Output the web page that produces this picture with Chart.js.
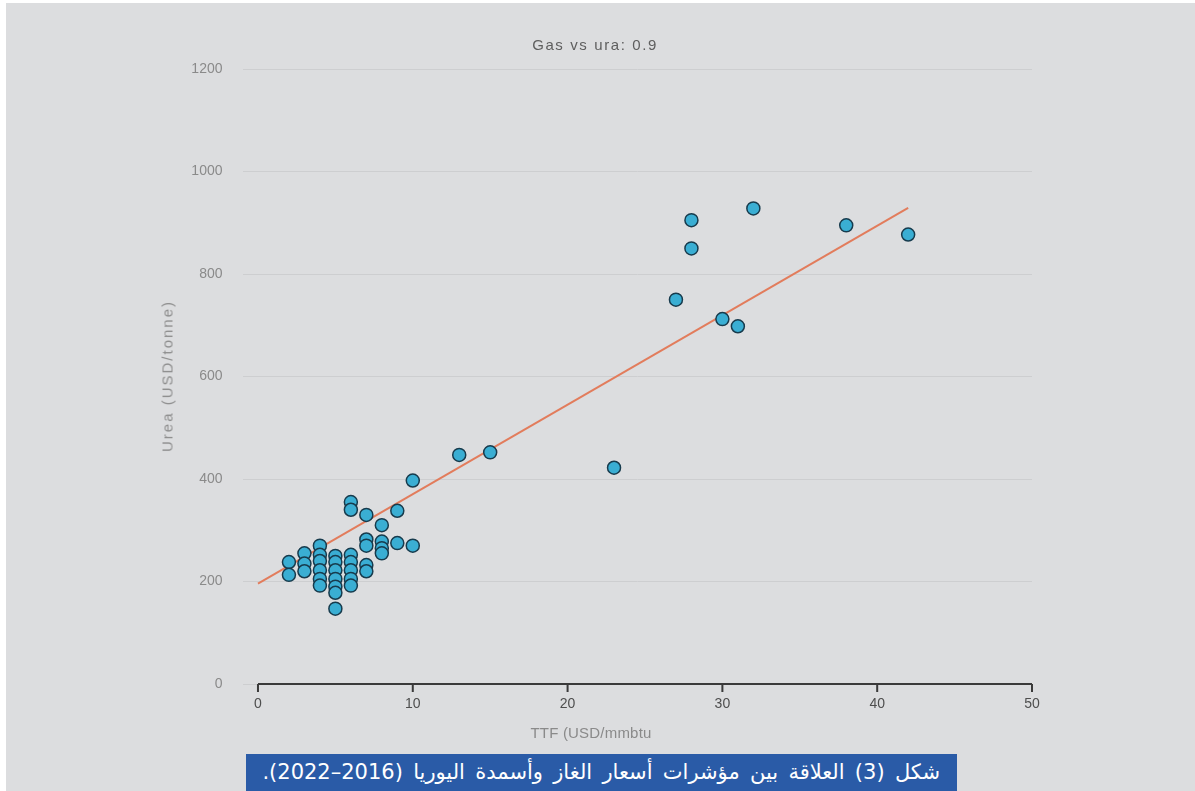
<!DOCTYPE html>
<html>
<head>
<meta charset="utf-8">
<script src="https://cdn.jsdelivr.net/npm/chart.js@4.4.1/dist/chart.umd.min.js"></script>
<style>
  html, body { margin: 0; padding: 0; background: #ffffff; }
  body { width: 1195px; height: 791px; position: relative; overflow: hidden; font-family: "Liberation Sans", Arial, sans-serif; }
  #panel { position: absolute; left: 6px; top: 3px; right: 0; bottom: 0; background: #dcdddf; }
  #wrap { position: absolute; left: 0; top: 0; width: 1195px; height: 791px; }
  .lbl { position: absolute; white-space: nowrap; line-height: 17px; }
  #title { left: 595px; top: 36px; color: #5e5e5e; font-size: 15px; letter-spacing: 1.6px; transform: translateX(-50%); }
  #xtitle { left: 591px; top: 724px; color: #8a8a8a; font-size: 15px; letter-spacing: 0.2px; transform: translateX(-50%); }
  #ytitle { left: 167px; top: 376px; color: #8e8e8e; font-size: 15px; letter-spacing: 2px; transform: translate(-50%, -50%) rotate(-90deg); }
  #caption {
    position: absolute; left: 246px; top: 754px; width: 711px; height: 37px;
    background: #2a5ba7; color: #ffffff; direction: rtl; text-align: right;
    font-family: "DejaVu Sans", "Noto Sans", sans-serif; font-size: 21px; word-spacing: 3.6px;
    line-height: 37px; padding-right: 17px; box-sizing: border-box; white-space: nowrap;
  }
</style>
</head>
<body>
<div id="panel"></div>
<div id="wrap"><canvas id="c" width="1195" height="791"></canvas></div>
<div class="lbl" id="title">Gas vs ura: 0.9</div>
<div class="lbl" id="xtitle">TTF (USD/mmbtu</div>
<div class="lbl" id="ytitle">Urea (USD/tonne)</div>
<div id="caption">شكل (3) العلاقة بين مؤشرات أسعار الغاز وأسمدة اليوريا (2016–2022).</div>
<script>
// Gas price (TTF, USD/mmbtu) for each observation
const ttf = [
  2, 2,
  3, 3, 3,
  4, 4, 4, 4, 4, 4,
  5, 5, 5, 5, 5, 5, 5,
  6, 6, 6, 6, 6, 6, 6,
  7, 7, 7, 7, 7,
  8, 8, 8, 8,
  9, 9,
  10, 10,
  13, 15, 23, 27, 28, 28, 30, 31, 32, 38, 42
];
// Urea price (USD/tonne) for the same observations
const urea = [
  238, 213,
  255, 235, 220,
  270, 252, 240, 222, 205, 192,
  250, 238, 222, 205, 190, 178, 147,
  355, 340, 252, 238, 222, 205, 192,
  330, 282, 270, 232, 220,
  310, 278, 265, 255,
  338, 275,
  397, 270,
  447, 452, 422, 750, 905, 850, 712, 698, 928, 895, 877
];
// Fitted trend line end points
const fitX = [0, 42];
const fitY = [196, 929];
// Axis tick values
const xTicks = [0, 10, 20, 30, 40, 50];
const yTicks = [0, 200, 400, 600, 800, 1000, 1200];

const scatterPts = ttf.map((x, i) => ({ x: x, y: urea[i] }));
const fitPts = fitX.map((x, i) => ({ x: x, y: fitY[i] }));

// Base-graphics style x axis: dark line from first to last tick, ticks pointing down
const xAxisLine = {
  id: 'xAxisLine',
  afterDraw(chart) {
    const xs = chart.scales.x, ys = chart.scales.y, ctx = chart.ctx;
    const y0 = ys.getPixelForValue(0);
    const a = xs.getPixelForValue(xTicks[0]);
    const b = xs.getPixelForValue(xTicks[xTicks.length - 1]);
    ctx.save();
    ctx.strokeStyle = '#3a3a3a';
    ctx.lineWidth = 2;
    ctx.beginPath();
    ctx.moveTo(a, y0); ctx.lineTo(b, y0);
    xTicks.forEach(v => {
      const p = xs.getPixelForValue(v);
      ctx.moveTo(p, y0); ctx.lineTo(p, y0 + 8);
    });
    ctx.stroke();
    ctx.restore();
  }
};

new Chart(document.getElementById('c'), {
  type: 'scatter',
  data: {
    datasets: [
      {
        label: 'fit',
        type: 'line',
        data: fitPts,
        borderColor: '#e27c5c',
        borderWidth: 2,
        pointRadius: 0,
        fill: false,
        order: 2
      },
      {
        label: 'obs',
        data: scatterPts,
        backgroundColor: '#3aaed3',
        borderColor: '#173b4d',
        borderWidth: 1.5,
        pointRadius: 6.5,
        order: 1
      }
    ]
  },
  options: {
    responsive: false,
    animation: false,
    events: [],
    layout: { padding: { left: 158, right: 163, top: 69, bottom: 77 } },
    plugins: { legend: { display: false }, tooltip: { enabled: false }, title: { display: false } },
    scales: {
      x: {
        type: 'linear', min: -1, max: 50,
        grid: { display: false, drawTicks: false },
        border: { display: false },
        afterBuildTicks: s => { s.ticks = xTicks.map(v => ({ value: v })); },
        afterFit: s => { s.height = 30; s.paddingLeft = 0; s.paddingRight = 0; },
        ticks: { padding: 12, color: '#4e4e4e', font: { family: 'Liberation Sans', size: 14 }, maxRotation: 0,
                 callback: v => String(v) }
      },
      y: {
        type: 'linear', min: 0, max: 1200,
        grid: { color: '#cdced0', lineWidth: 1, drawTicks: false },
        border: { display: false },
        afterBuildTicks: s => { s.ticks = yTicks.map(v => ({ value: v })); },
        afterFit: s => { s.width = 84.5; s.paddingTop = 0; s.paddingBottom = 0; },
        ticks: { padding: 20, color: '#8a8a8a', font: { family: 'Liberation Sans', size: 14 },
                 callback: v => String(v) }
      }
    }
  },
  plugins: [xAxisLine]
});
</script>
</body>
</html>
